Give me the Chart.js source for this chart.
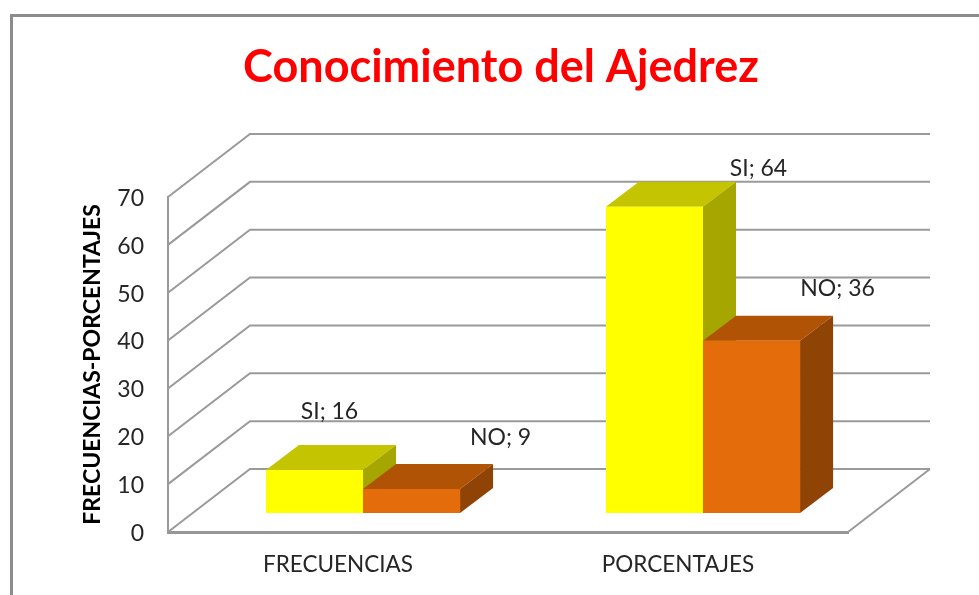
<!DOCTYPE html>
<html lang="es">
<head>
    <meta charset="UTF-8">
    <title>Conocimiento del Ajedrez</title>
    <script src="https://cdn.jsdelivr.net/npm/chart.js"></script>
    <style>
        * {
            margin: 0;
            padding: 0;
            box-sizing: border-box;
        }

        body {
            background: white;
            width: 979px;
            height: 595px;
            overflow: hidden;
            position: relative;
        }

        .frame {
            position: absolute;
            left: 10px;
            top: 14px;
            width: 969px;
            height: 581px;
            border-left: 3px solid #8c8c8c;
            border-top: 3px solid #8c8c8c;
        }

        canvas {
            position: absolute;
            left: 0;
            top: 0;
        }
    </style>
</head>
<body>
    <div class="frame"></div>
    <canvas id="ajedrez" width="979" height="595"></canvas>

    <script>
        const categories = ['FRECUENCIAS', 'PORCENTAJES'];
        const yTicks = [0, 10, 20, 30, 40, 50, 60, 70];

        // Alturas tal como se ven contra el eje
        const siValues = [9, 64];
        const noValues = [5, 36];

        // Lo que dicen las etiquetas (en FRECUENCIAS no coincide con la altura)
        const siLabels = ['SI; 16', 'SI; 64'];
        const noLabels = ['NO; 9', 'NO; 36'];

        // Etiquetas movidas a mano, desde el centro superior de cada barra
        const siLabelOffsets = [[15, -58], [104, -38]];
        const noLabelOffsets = [[89, -51], [86, -52]];

        const WALL_X = 82, WALL_Y = 63;    // fondo de la caja 3D
        const BAR_SHIFT_X = 25, BAR_SHIFT_Y = 19;
        const BAR_DEPTH_X = 33, BAR_DEPTH_Y = 25;

        const faces = [
            { top: '#c4c400', side: '#a6a600', labels: siLabels, offsets: siLabelOffsets },
            { top: '#b05305', side: '#8f4304', labels: noLabels, offsets: noLabelOffsets }
        ];

        function fillFace(ctx, points, color) {
            ctx.fillStyle = color;
            ctx.beginPath();
            points.forEach((p, i) => i ? ctx.lineTo(p[0], p[1]) : ctx.moveTo(p[0], p[1]));
            ctx.closePath();
            ctx.fill();
        }

        const box3d = {
            id: 'box3d',
            afterLayout(chart) {
                // el titulo no va centrado sobre el area de trazado
                chart.titleBlock.left -= 7;
                chart.titleBlock.right -= 7;
            },
            beforeDatasetsDraw(chart) {
                const { ctx, chartArea, scales } = chart;
                const left = chartArea.left, right = chartArea.right;

                // paredes y suelo
                ctx.save();
                ctx.strokeStyle = '#9a9a9a';
                ctx.lineWidth = 2;
                ctx.beginPath();
                yTicks.forEach(t => {
                    const y = scales.y.getPixelForValue(t);
                    ctx.moveTo(left, y);
                    ctx.lineTo(left + WALL_X, y - WALL_Y);
                    ctx.lineTo(right + WALL_X, y - WALL_Y);
                });
                const y0 = scales.y.getPixelForValue(0);
                ctx.moveTo(right, y0);
                ctx.lineTo(right + WALL_X, y0 - WALL_Y);
                ctx.stroke();

                // caras de arriba y de la derecha: primero SI, luego NO encima
                ctx.translate(BAR_SHIFT_X, -BAR_SHIFT_Y);
                faces.forEach((face, i) => {
                    chart.getDatasetMeta(i).data.forEach(bar => {
                        const l = bar.x - bar.width / 2, r = bar.x + bar.width / 2;
                        const t = bar.y, b = bar.base;
                        fillFace(ctx, [[l, t], [r, t], [r + BAR_DEPTH_X, t - BAR_DEPTH_Y], [l + BAR_DEPTH_X, t - BAR_DEPTH_Y]], face.top);
                        fillFace(ctx, [[r, t], [r, b], [r + BAR_DEPTH_X, b - BAR_DEPTH_Y], [r + BAR_DEPTH_X, t - BAR_DEPTH_Y]], face.side);
                    });
                });
                ctx.restore();
            },
            // el frente de cada barra lo dibuja la libreria, desplazado hacia el fondo
            beforeDatasetDraw(chart) {
                chart.ctx.save();
                chart.ctx.translate(BAR_SHIFT_X, -BAR_SHIFT_Y);
            },
            afterDatasetDraw(chart) {
                chart.ctx.restore();
            },
            afterDatasetsDraw(chart) {
                const { ctx } = chart;
                ctx.save();
                ctx.font = '23px Lato';
                ctx.fillStyle = '#262626';
                ctx.textAlign = 'center';
                ctx.textBaseline = 'middle';
                faces.forEach((face, i) => {
                    chart.getDatasetMeta(i).data.forEach((bar, j) => {
                        const off = face.offsets[j];
                        ctx.fillText(face.labels[j], bar.x + BAR_SHIFT_X + off[0], bar.y - BAR_SHIFT_Y + off[1]);
                    });
                });
                ctx.restore();
            }
        };

        new Chart(document.getElementById('ajedrez'), {
            type: 'bar',
            data: {
                labels: categories,
                datasets: [
                    { label: 'SI', data: siValues, backgroundColor: '#ffff00', clip: false },
                    { label: 'NO', data: noValues, backgroundColor: '#e46c0a', clip: false }
                ]
            },
            options: {
                responsive: false,
                animation: false,
                barPercentage: 1,
                categoryPercentage: 0.571,
                layout: { padding: { left: 0, right: 131, top: 0, bottom: 0 } },
                plugins: {
                    legend: { display: false },
                    tooltip: { enabled: false },
                    title: {
                        display: true,
                        text: 'Conocimiento del Ajedrez',
                        color: '#ff0000',
                        fullSize: false,
                        font: { family: 'Lato', size: 45, weight: 'bold', lineHeight: 1 },
                        padding: { top: 45, bottom: 107 }
                    }
                },
                scales: {
                    x: {
                        grid: { display: false, drawTicks: false },
                        border: { color: '#969696', width: 3 },
                        ticks: { color: '#262626', padding: 19, font: { family: 'Lato', size: 22.5 } },
                        afterFit(scale) { scale.height = 63; }
                    },
                    y: {
                        min: yTicks[0],
                        max: yTicks[yTicks.length - 1],
                        grid: { display: false, drawTicks: false },
                        border: { color: '#9a9a9a', width: 2 },
                        ticks: { stepSize: 10, color: '#262626', padding: 24, labelOffset: 1.5, font: { family: 'Lato', size: 23 } },
                        title: {
                            display: true,
                            text: 'FRECUENCIAS-PORCENTAJES',
                            color: '#000000',
                            font: { family: 'Lato', size: 23, weight: 'bold', lineHeight: 1.2 },
                            padding: { top: 79, bottom: 0 }
                        },
                        afterFit(scale) { scale.width = 168; }
                    }
                }
            },
            plugins: [box3d]
        });
    </script>
</body>
</html>
